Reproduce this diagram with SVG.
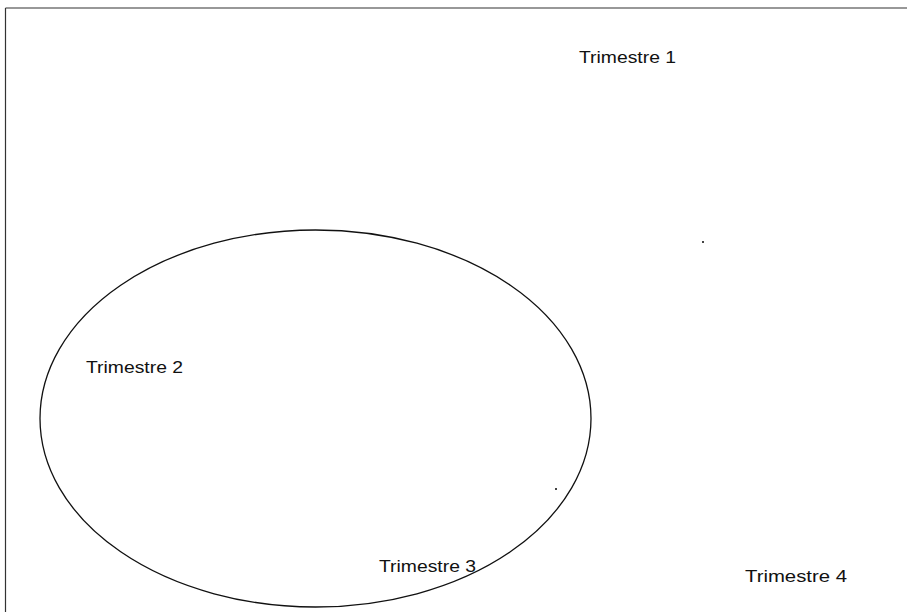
<svg xmlns="http://www.w3.org/2000/svg" width="907" height="612" viewBox="0 0 907 612">
<style>
.lbl{font-family:"Liberation Sans",Arial,sans-serif;font-size:17px;fill:#111}
.frame{stroke:#333;stroke-width:1.2;fill:none}
</style>
<rect width="907" height="612" fill="#fff"/>
<g id="frame">
<line class="frame" x1="5.5" y1="8" x2="907" y2="8"/>
<line class="frame" x1="5.5" y1="8" x2="5.5" y2="612"/>
</g>
<g id="ellipse">
<ellipse cx="315.5" cy="418.5" rx="275.5" ry="188.5" fill="none" stroke="#111" stroke-width="1.3"/>
</g>
<g id="labels">
<text class="lbl" x="579" y="63" textLength="97" lengthAdjust="spacingAndGlyphs">Trimestre 1</text>
<text class="lbl" x="86" y="373" textLength="97" lengthAdjust="spacingAndGlyphs">Trimestre 2</text>
<text class="lbl" x="379" y="572" textLength="97" lengthAdjust="spacingAndGlyphs">Trimestre 3</text>
<text class="lbl" x="745" y="582" textLength="102" lengthAdjust="spacingAndGlyphs">Trimestre 4</text>
</g>
<g id="specks">
<rect x="702" y="241" width="2" height="2" fill="#444"/>
<rect x="555" y="488" width="2" height="2" fill="#444"/>
</g>
</svg>
